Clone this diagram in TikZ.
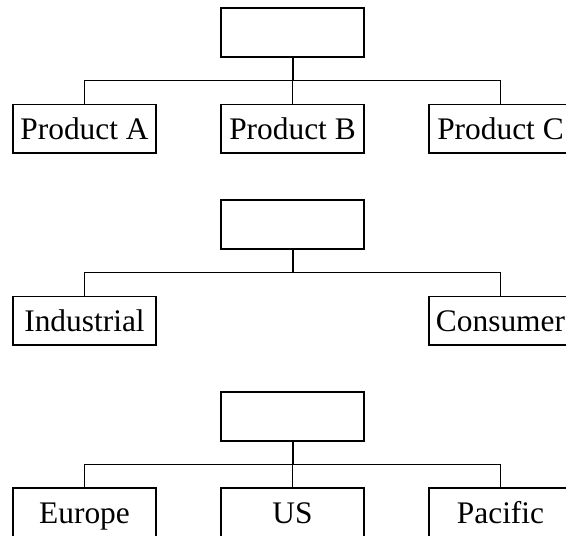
\documentclass[tikz,border=0pt]{standalone}
\usepackage{fontspec}
\setmainfont{Liberation Serif}
\begin{document}
\begin{tikzpicture}[x=1pt,y=-1pt,
  box/.style={draw, line width=1.8pt, minimum width=143.6pt, minimum height=48.4pt,
    inner sep=0pt, text height=22pt, text depth=0pt, font=\fontsize{31.4}{36}\selectfont},
  trunk/.style={line width=2pt},
  branch/.style={line width=1.2pt}]
\useasboundingbox (0,0) rectangle (566,536);
\clip (0,0) rectangle (566,536);
% group 1
\node[box] (p1) at (292.5,32.5) {};
\coordinate (b1) at (292.5,80.5);
\node[box] (a1) at (84.5,128.7) {Product A};
\node[box] (m1) at (292.5,128.7) {Product B};
\node[box] (c1) at (500.5,128.7) {Product C};
\draw[trunk] (p1.south) -- (b1);
\draw[branch] (a1.north) -- (a1.north |- b1) -- (c1.north |- b1) -- (c1.north);
\draw[branch] (b1) -- (m1.north);
% group 2
\node[box] (p2) at (292.5,224.5) {};
\coordinate (b2) at (292.5,272.5);
\node[box] (a2) at (84.5,320.7) {Industrial};
\node[box] (c2) at (500.5,320.7) {Consumer};
\draw[trunk] (p2.south) -- (b2);
\draw[branch] (a2.north) -- (a2.north |- b2) -- (c2.north |- b2) -- (c2.north);
% group 3
\node[box] (p3) at (292.5,416.5) {};
\coordinate (b3) at (292.5,464.5);
\node[box] (a3) at (84.5,512.4) {Europe};
\node[box] (m3) at (292.5,512.4) {US};
\node[box] (c3) at (500.5,512.4) {Pacific};
\draw[trunk] (p3.south) -- (b3);
\draw[branch] (a3.north) -- (a3.north |- b3) -- (c3.north |- b3) -- (c3.north);
\draw[branch] (b3) -- (m3.north);
\end{tikzpicture}
\end{document}
